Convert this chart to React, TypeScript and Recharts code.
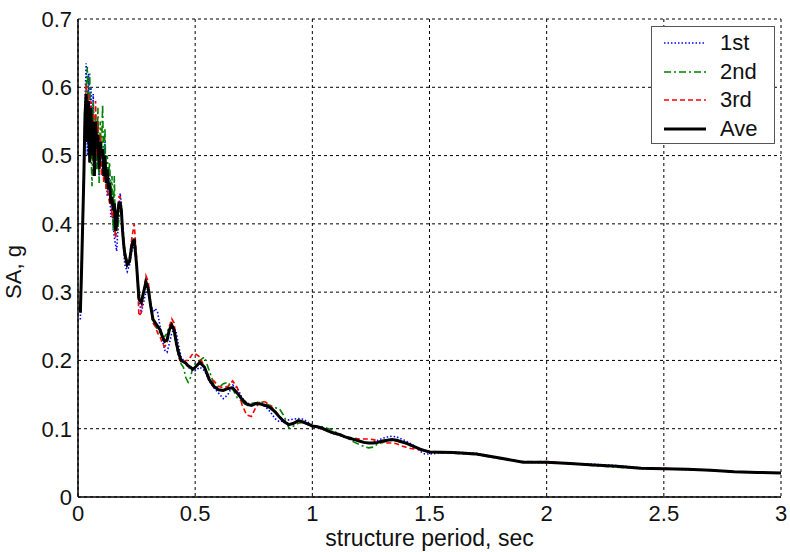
import React from 'react';
import { LineChart, Line, XAxis, YAxis, CartesianGrid, Legend } from 'recharts';

const periods = [
  0.010, 0.015, 0.020, 0.025, 0.030, 0.035, 0.040, 0.045, 0.050, 0.055,
  0.060, 0.065, 0.070, 0.075, 0.080, 0.085, 0.090, 0.095, 0.100, 0.105,
  0.110, 0.115, 0.120, 0.125, 0.130, 0.135, 0.140, 0.145, 0.150, 0.155,
  0.160, 0.165, 0.170, 0.175, 0.180, 0.185, 0.190, 0.195, 0.200,
  0.21, 0.22, 0.23, 0.24, 0.25, 0.26, 0.27, 0.28, 0.29, 0.30,
  0.31, 0.32, 0.33, 0.34, 0.35, 0.36, 0.37, 0.38, 0.39, 0.40,
  0.41, 0.42, 0.43, 0.44, 0.45, 0.46, 0.47, 0.48, 0.49, 0.50,
  0.52, 0.54, 0.56, 0.58, 0.60, 0.62, 0.64, 0.66, 0.68, 0.70,
  0.72, 0.74, 0.76, 0.78, 0.80, 0.82, 0.84, 0.86, 0.88, 0.90,
  0.92, 0.94, 0.96, 0.98, 1.00, 1.02, 1.04, 1.06, 1.08, 1.10,
  1.12, 1.14, 1.16, 1.18, 1.20, 1.22, 1.24, 1.26, 1.28, 1.30,
  1.32, 1.34, 1.36, 1.38, 1.40, 1.42, 1.44, 1.46, 1.48, 1.50,
  1.6, 1.7, 1.8, 1.9, 2.0, 2.1, 2.2, 2.3, 2.4, 2.5, 2.6, 2.7, 2.8, 2.9, 3.0,
];

const ave = [
  0.27, 0.33, 0.40, 0.47, 0.56, 0.59, 0.52, 0.58, 0.49, 0.57,
  0.50, 0.55, 0.47, 0.55, 0.51, 0.53, 0.48, 0.52, 0.50, 0.51,
  0.47, 0.50, 0.46, 0.48, 0.45, 0.46, 0.43, 0.44, 0.42, 0.43,
  0.39, 0.40, 0.42, 0.43, 0.43, 0.42, 0.39, 0.37, 0.355,
  0.34, 0.345, 0.37, 0.378, 0.34, 0.29, 0.285, 0.30, 0.315, 0.305,
  0.28, 0.26, 0.255, 0.25, 0.245, 0.235, 0.228, 0.23, 0.245, 0.252,
  0.245, 0.225, 0.21, 0.20, 0.198, 0.196, 0.192, 0.19, 0.187, 0.19,
  0.197, 0.19, 0.172, 0.162, 0.157, 0.156, 0.159, 0.160, 0.152, 0.143,
  0.136, 0.134, 0.137, 0.136, 0.134, 0.131, 0.125, 0.117, 0.110, 0.106,
  0.108, 0.112, 0.110, 0.107, 0.104, 0.103, 0.101, 0.098, 0.095, 0.093,
  0.091, 0.088, 0.086, 0.084, 0.082, 0.080, 0.079, 0.079, 0.080, 0.082,
  0.083, 0.084, 0.083, 0.081, 0.079, 0.076, 0.073, 0.070, 0.068, 0.066,
  0.065, 0.063, 0.057, 0.051, 0.051, 0.049, 0.047, 0.045, 0.042, 0.0415, 0.0405, 0.039, 0.037, 0.036, 0.035,
];

const first = [
  0.26, 0.32, 0.39, 0.48, 0.58, 0.635, 0.50, 0.62, 0.49, 0.60,
  0.52, 0.59, 0.48, 0.53, 0.55, 0.50, 0.47, 0.53, 0.51, 0.47,
  0.48, 0.52, 0.47, 0.44, 0.48, 0.46, 0.41, 0.42, 0.40, 0.38,
  0.37, 0.36, 0.39, 0.42, 0.445, 0.43, 0.39, 0.36, 0.34,
  0.33, 0.34, 0.36, 0.37, 0.34, 0.29, 0.27, 0.285, 0.30, 0.30,
  0.285, 0.27, 0.276, 0.27, 0.25, 0.23, 0.215, 0.212, 0.225, 0.24,
  0.246, 0.24, 0.22, 0.205, 0.20, 0.195, 0.19, 0.188, 0.185, 0.185,
  0.19, 0.185, 0.17, 0.16, 0.152, 0.144, 0.15, 0.164, 0.16, 0.145,
  0.138, 0.135, 0.138, 0.137, 0.132, 0.125, 0.115, 0.11, 0.112, 0.113,
  0.114, 0.115, 0.114, 0.11, 0.105, 0.102, 0.10, 0.097, 0.094, 0.092,
  0.09, 0.087, 0.085, 0.083, 0.081, 0.08, 0.079, 0.08, 0.083, 0.086,
  0.088, 0.089, 0.088, 0.085, 0.082, 0.078, 0.074, 0.067, 0.063, 0.063,
  0.066, 0.064, 0.057, 0.051, 0.05, 0.049, 0.048, 0.046, 0.043, 0.041, 0.04, 0.039, 0.037, 0.036, 0.035,
];

const second = [
  0.27, 0.33, 0.41, 0.47, 0.57, 0.60, 0.63, 0.50, 0.62, 0.51,
  0.455, 0.58, 0.50, 0.56, 0.48, 0.57, 0.46, 0.55, 0.50, 0.575,
  0.47, 0.54, 0.45, 0.50, 0.47, 0.49, 0.44, 0.47, 0.39, 0.47,
  0.38, 0.42, 0.39, 0.41, 0.42, 0.42, 0.40, 0.38, 0.36,
  0.345, 0.35, 0.37, 0.375, 0.34, 0.30, 0.285, 0.30, 0.31, 0.30,
  0.28, 0.255, 0.25, 0.245, 0.24, 0.235, 0.235, 0.24, 0.25, 0.255,
  0.24, 0.22, 0.205, 0.195, 0.19, 0.175, 0.168, 0.175, 0.19, 0.195,
  0.20, 0.205, 0.185, 0.165, 0.16, 0.166, 0.168, 0.158, 0.145, 0.14,
  0.133, 0.137, 0.138, 0.14, 0.137, 0.134, 0.131, 0.129, 0.118, 0.101,
  0.104, 0.108, 0.109, 0.106, 0.104, 0.104, 0.103, 0.101, 0.099, 0.095,
  0.092, 0.088, 0.084, 0.08, 0.077, 0.074, 0.072, 0.073, 0.078, 0.08,
  0.082, 0.083, 0.082, 0.08, 0.078, 0.075, 0.072, 0.07, 0.067, 0.066,
  0.064, 0.062, 0.056, 0.052, 0.051, 0.049, 0.046, 0.0435, 0.042, 0.041, 0.0405, 0.039, 0.037, 0.036, 0.035,
];

const third = [
  0.28, 0.34, 0.40, 0.48, 0.57, 0.605, 0.56, 0.59, 0.49, 0.58,
  0.50, 0.56, 0.50, 0.58, 0.50, 0.55, 0.48, 0.53, 0.47, 0.50,
  0.46, 0.49, 0.45, 0.45, 0.44, 0.43, 0.44, 0.41, 0.43, 0.41,
  0.38, 0.39, 0.42, 0.44, 0.44, 0.42, 0.39, 0.37, 0.36,
  0.345, 0.35, 0.38, 0.40, 0.35, 0.265, 0.27, 0.30, 0.324, 0.315,
  0.28, 0.255, 0.25, 0.24, 0.235, 0.225, 0.22, 0.225, 0.25, 0.261,
  0.255, 0.225, 0.205, 0.197, 0.197, 0.20, 0.20, 0.205, 0.21, 0.21,
  0.205, 0.19, 0.175, 0.17, 0.162, 0.16, 0.162, 0.17, 0.16, 0.135,
  0.12, 0.118, 0.132, 0.14, 0.139, 0.134, 0.127, 0.118, 0.11, 0.107,
  0.108, 0.11, 0.109, 0.106, 0.104, 0.102, 0.10, 0.097, 0.094, 0.092,
  0.09, 0.088, 0.087, 0.086, 0.085, 0.085, 0.085, 0.084, 0.082, 0.08,
  0.079, 0.079, 0.078, 0.075, 0.073, 0.071, 0.07, 0.069, 0.068, 0.067,
  0.065, 0.063, 0.057, 0.051, 0.052, 0.049, 0.047, 0.045, 0.042, 0.042, 0.040, 0.039, 0.037, 0.036, 0.035,
];

const xTicks = [0, 0.5, 1, 1.5, 2, 2.5, 3];
const yTicks = [0, 0.1, 0.2, 0.3, 0.4, 0.5, 0.6, 0.7];

const seriesNames = ['1st', '2nd', '3rd', 'Ave'];
const seriesColors = ['#0000ff', '#008000', '#ff0000', '#000000'];
const seriesDash = ['1.5 2', '7 3 2 3', '5 3', ''];
const seriesWidth = [1.6, 1.6, 1.6, 3];

const data = periods.map((t, i) => ({
  t,
  s1: first[i],
  s2: second[i],
  s3: third[i],
  ave: ave[i],
}));

const FONT = '"Liberation Sans", Arial, sans-serif';

const LegendBox = () => (
  <div
    style={{
      width: 124,
      height: 118,
      border: '1.5px solid #555',
      background: '#fff',
      boxSizing: 'border-box',
      paddingTop: 2,
    }}
  >
    {seriesNames.map((n, i) => (
      <div key={n} style={{ display: 'flex', alignItems: 'center', height: 28.5 }}>
        <svg width={56} height={10} style={{ marginLeft: 12 }}>
          <line
            x1={0}
            y1={5}
            x2={42}
            y2={5}
            stroke={seriesColors[i]}
            strokeWidth={seriesWidth[i]}
            strokeDasharray={seriesDash[i] || undefined}
          />
        </svg>
        <span style={{ fontFamily: FONT, fontSize: 22, color: '#111', lineHeight: '22px' }}>{n}</span>
      </div>
    ))}
  </div>
);

const YLabel = (props: any) => {
  const vb = props.viewBox;
  const x = vb.x + 13;
  const y = vb.y + vb.height / 2 + 14;
  return (
    <text
      x={x}
      y={y}
      transform={`rotate(-90 ${x} ${y})`}
      textAnchor="middle"
      dominantBaseline="central"
      fontFamily={FONT}
      fontSize={22}
      fill="#111"
    >
      SA, g
    </text>
  );
};

export default function App() {
  return (
    <div style={{ position: 'absolute', left: 0, top: 0, width: 790, height: 552, background: '#fff' }}>
      <LineChart width={790} height={552} data={data} margin={{ top: 19, right: 9, bottom: 0, left: 0 }}>
        <CartesianGrid stroke="#000" strokeDasharray="3 3" strokeWidth={1} />
        <XAxis
          dataKey="t"
          type="number"
          domain={[0, 3]}
          ticks={xTicks}
          height={55}
          tickSize={0}
          tickMargin={8}
          tickLine={false}
          axisLine={{ stroke: '#000', strokeWidth: 1.5 }}
          tick={{ fontFamily: FONT, fontSize: 22, fill: '#111' }}
          label={{
            value: 'structure period, sec',
            position: 'insideBottom',
            offset: 6,
            style: { fontFamily: FONT, fontSize: 23, fill: '#111' },
          }}
        />
        <XAxis
          xAxisId="top"
          orientation="top"
          dataKey="t"
          type="number"
          domain={[0, 3]}
          height={0}
          tick={false}
          tickLine={false}
          axisLine={{ stroke: '#777', strokeWidth: 1.5 }}
        />
        <YAxis
          type="number"
          domain={[0, 0.7]}
          ticks={yTicks}
          width={78}
          tickSize={0}
          tickMargin={6}
          tickLine={false}
          axisLine={{ stroke: '#000', strokeWidth: 1.5 }}
          tick={{ fontFamily: FONT, fontSize: 22, fill: '#111' }}
          label={<YLabel />}
        />
        <YAxis
          yAxisId="right"
          orientation="right"
          type="number"
          domain={[0, 0.7]}
          width={0}
          tick={false}
          tickLine={false}
          axisLine={{ stroke: '#000', strokeWidth: 2 }}
        />
        <Legend
          layout="vertical"
          verticalAlign="middle"
          align="center"
          content={<LegendBox />}
          wrapperStyle={{ left: 651, top: 26, width: 124, height: 118 }}
        />
        <Line dataKey="s1" name="1st" stroke={seriesColors[0]} strokeWidth={seriesWidth[0]} strokeDasharray={seriesDash[0]} dot={false} isAnimationActive={false} />
        <Line dataKey="s2" name="2nd" stroke={seriesColors[1]} strokeWidth={seriesWidth[1]} strokeDasharray={seriesDash[1]} dot={false} isAnimationActive={false} />
        <Line dataKey="s3" name="3rd" stroke={seriesColors[2]} strokeWidth={seriesWidth[2]} strokeDasharray={seriesDash[2]} dot={false} isAnimationActive={false} />
        <Line dataKey="ave" name="Ave" stroke={seriesColors[3]} strokeWidth={seriesWidth[3]} dot={false} isAnimationActive={false} />
      </LineChart>
    </div>
  );
}
